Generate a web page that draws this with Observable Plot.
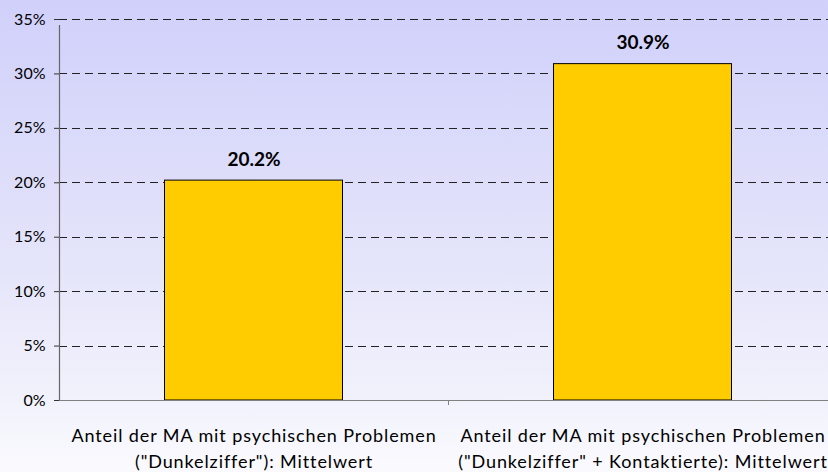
<!DOCTYPE html>
<html>
<head>
<meta charset="utf-8">
<script src="https://cdn.jsdelivr.net/npm/d3@7"></script>
<script src="https://cdn.jsdelivr.net/npm/@observablehq/plot@0.6"></script>
<style>
  html, body { margin: 0; padding: 0; }
  body {
    width: 828px; height: 472px; overflow: hidden;
    background: linear-gradient(to bottom, #d0d0fb 0%, #e2e2fa 50%, #f2f2fc 85%, #fafafe 100%);
    font-family: Lato, sans-serif;
  }
  svg { display: block; background: transparent !important; }
</style>
</head>
<body>
<div id="chart"></div>
<script>
const categories = [
  'Anteil der MA mit psychischen Problemen\n("Dunkelziffer"): Mittelwert',
  'Anteil der MA mit psychischen Problemen\n("Dunkelziffer" + Kontaktierte): Mittelwert'
];
const values = [20.2, 30.9];
const valueLabels = ["20.2%", "30.9%"];
const yTicks = [0, 5, 10, 15, 20, 25, 30, 35];
const gridTicks = [5, 10, 15, 20, 25, 30, 35];

const width = 828, height = 472;
const marginLeft = 59, marginRight = -9, marginTop = 19, marginBottom = 72;
const bandWidth = (width - marginLeft - marginRight) / categories.length;
const barInset = 105.5;

const data = categories.map((c, i) => ({cat: c, value: values[i], label: valueLabels[i]}));

const chart = Plot.plot({
  width, height, marginLeft, marginRight, marginTop, marginBottom,
  style: {background: "transparent", fontFamily: "Lato, sans-serif", overflow: "visible"},
  x: {type: "band", domain: categories, padding: 0, axis: null},
  y: {domain: [0, 35], axis: null},
  marks: [
    Plot.ruleY(gridTicks, {stroke: "#222", strokeWidth: 1, strokeDasharray: "8,5", shapeRendering: "crispEdges"}),
    Plot.barY(data, {x: "cat", y: "value", fill: "#FFCC00", stroke: "#000", strokeWidth: 1, insetLeft: barInset, insetRight: barInset}),
    Plot.text(data, {x: "cat", y: "value", text: "label", dy: -21, fontSize: 19, fontWeight: "bold", fill: "#000"}),
    Plot.ruleY([0], {stroke: "#808080", strokeWidth: 1.2}),
    Plot.ruleX([categories[0]], {x: d => d, y1: 0, y2: 35, insetBottom: -6, dx: -bandWidth / 2, stroke: "#666", strokeWidth: 1.2}),
    Plot.ruleX([categories[1]], {x: d => d, y1: 0, y2: 0, insetBottom: -5, dx: -bandWidth / 2, stroke: "#808080"}),
    Plot.axisY(yTicks, {tickSize: 5, tickPadding: 9, fontSize: 16, stroke: "#333", tickFormat: d => d + "%", fill: "#000", label: null}),
    Plot.axisX(categories, {tickSize: 0, tickPadding: 23, fontSize: 18, lineHeight: 1.45, fill: "#000", label: null})
  ]
});
chart.querySelectorAll('[aria-label="x-axis tick label"] text').forEach(t => t.setAttribute("letter-spacing", "0.9"));
document.getElementById("chart").appendChild(chart);
</script>
</body>
</html>
